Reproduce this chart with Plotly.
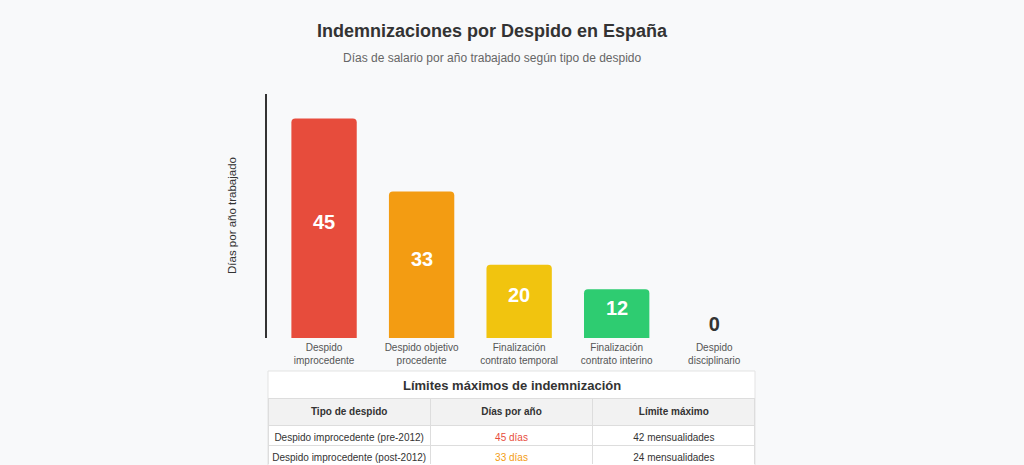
import plotly.graph_objects as go

W, H = 1024, 465

# chart data
categorias = [
    "Despido<br>improcedente",
    "Despido objetivo<br>procedente",
    "Finalización<br>contrato temporal",
    "Finalización<br>contrato interino",
    "Despido<br>disciplinario",
]
dias = [45, 33, 20, 12, 0]
# bar heights as drawn in the original (percent of plot height)
alturas = [90, 60, 30, 20, 0]
colores = ["#e74c3c", "#f39c12", "#f1c40f", "#2ecc71", "#95a5a6"]

# table data
tabla_tipo = ["Despido improcedente (pre-2012)", "Despido improcedente (post-2012)"]
tabla_dias = ["45 días", "33 días"]
tabla_limite = ["42 mensualidades", "24 mensualidades"]
tabla_colores_dias = ["#e74c3c", "#f39c12"]
tabla_cabecera = ["Tipo de despido", "Días por año", "Límite máximo"]

FONT = "Liberation Sans, Arial, sans-serif"


def px_x(v):
    return v / W


def px_y(v):
    return 1 - v / H


def nowrap(items):
    # keep each cell on one line
    return [s.replace(" ", "\u00a0") for s in items]


fig = go.Figure()

# only the empty bar keeps its own (outside) label, the others get annotations
fig.add_trace(go.Bar(
    x=categorias,
    y=alturas,
    text=[str(d) for d in dias],
    textposition=["none" if a > 0 else "outside" for a in alturas],
    outsidetextfont=dict(color="#333333", size=20, family=FONT, weight="bold"),
    marker=dict(color=colores, cornerradius=4, line=dict(width=0)),
    width=0.67,
    cliponaxis=False,
    hoverinfo="skip",
))

for cat, d, a in zip(categorias, dias, alturas):
    if a > 0:
        fig.add_annotation(x=cat, y=a / 2, yshift=6, text="<b>%d</b>" % d,
                           showarrow=False,
                           font=dict(family=FONT, size=20, color="white"))

fig.add_trace(go.Table(
    domain=dict(x=[px_x(268), px_x(755)], y=[0, px_y(398)]),
    columnwidth=[1, 1, 1],
    header=dict(
        values=["<b>%s</b>" % h for h in nowrap(tabla_cabecera)],
        fill_color="#f2f2f2",
        line_color="#dddddd",
        align="center",
        height=25,
        font=dict(family=FONT, size=10, color="#333333"),
    ),
    cells=dict(
        values=[nowrap(tabla_tipo), nowrap(tabla_dias), nowrap(tabla_limite)],
        fill_color="white",
        line_color="#dddddd",
        align="center",
        height=20,
        font=dict(family=FONT, size=10,
                  color=[["#333333"] * 2, tabla_colores_dias, ["#333333"] * 2]),
    ),
))

# card behind the table
x0, x1, y0 = px_x(268), px_x(755), px_y(371)
fig.add_shape(type="rect", xref="paper", yref="paper",
              x0=x0, x1=x1, y0=-0.05, y1=y0,
              fillcolor="white", line=dict(color="#e3e3e3", width=1), layer="below")

texto = dict(xref="paper", yref="paper", showarrow=False,
             xanchor="center", yanchor="middle")
fig.add_annotation(text="<b>Límites máximos de indemnización</b>",
                   x=(x0 + x1) / 2, y=px_y(385),
                   font=dict(family=FONT, size=13, color="#333333"), **texto)
fig.add_annotation(text="<b>Indemnizaciones por Despido en España</b>",
                   x=px_x(492), y=px_y(31),
                   font=dict(family=FONT, size=18, color="#333333"), **texto)
fig.add_annotation(text="Días de salario por año trabajado según tipo de despido",
                   x=px_x(492), y=px_y(58),
                   font=dict(family=FONT, size=12, color="#666666"), **texto)
fig.add_annotation(text="Días por año trabajado", textangle=-90,
                   x=px_x(232), y=px_y(216),
                   font=dict(family=FONT, size=11.5, color="#333333"), **texto)

fig.update_layout(
    width=W, height=H,
    margin=dict(l=0, r=0, t=0, b=0),
    paper_bgcolor="#f8f9fa",
    plot_bgcolor="#f8f9fa",
    showlegend=False,
    xaxis=dict(
        domain=[px_x(267), px_x(763)],
        range=[-0.585, 4.5],
        showgrid=False, showline=False, zeroline=False, ticks="",
        ticklabelstandoff=2,
        tickfont=dict(family=FONT, size=10, color="#555555"),
        fixedrange=True,
    ),
    yaxis=dict(
        domain=[px_y(338), px_y(94)],
        range=[0, 100],
        showgrid=False, zeroline=False, showticklabels=False, ticks="",
        showline=True, linecolor="#333333", linewidth=2,
        fixedrange=True,
    ),
)

fig.write_html("out.html", config={"displayModeBar": False},
               post_script="document.body.style.margin='0';")
